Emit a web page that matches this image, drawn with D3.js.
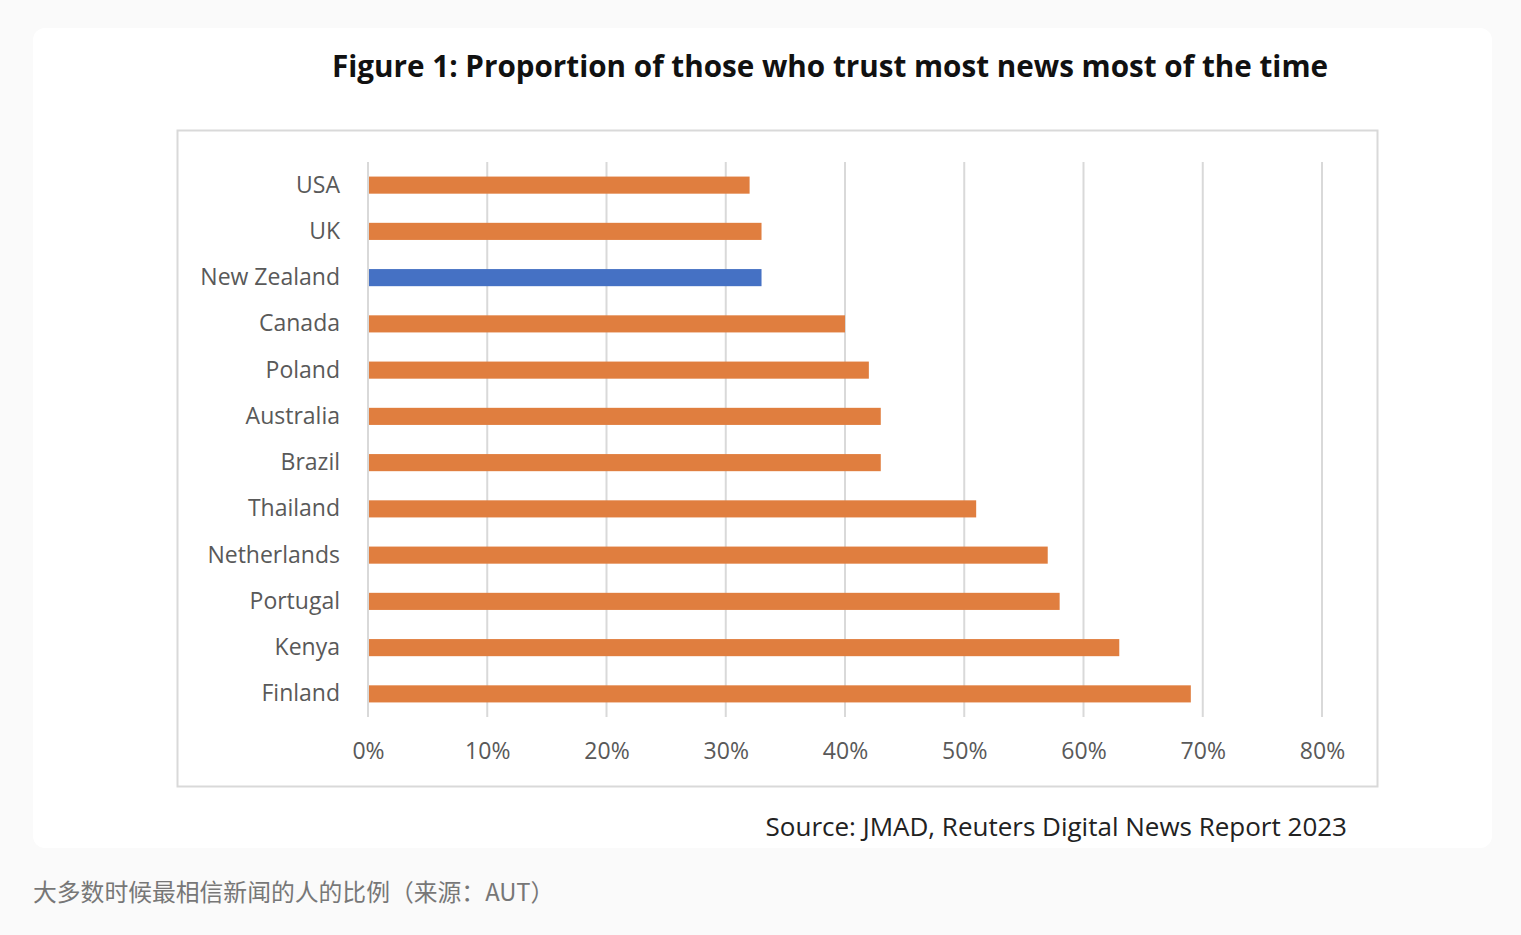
<!DOCTYPE html>
<html><head><meta charset="utf-8">
<script src="https://cdn.jsdelivr.net/npm/d3@7"></script>
<style>
html,body{margin:0;padding:0;background:#fafafa;}
svg{display:block;}
</style></head>
<body>
<svg id="chart" width="1521" height="935"></svg>
<script>
const countries = ["USA","UK","New Zealand","Canada","Poland","Australia","Brazil","Thailand","Netherlands","Portugal","Kenya","Finland"];
const values = [32,33,33,40,42,43,43,51,57,58,63,69];
const highlight = ["New Zealand"];
const ticks = [0,10,20,30,40,50,60,70,80];
const title = "Figure 1: Proportion of those who trust most news most of the time";
const source = "Source: JMAD, Reuters Digital News Report 2023";
const caption = "大多数时候最相信新闻的人的比例（来源：AUT）";

const svg = d3.select("#chart");
// card
svg.append("rect").attr("x",33).attr("y",28).attr("width",1459).attr("height",820).attr("rx",12).attr("fill","#ffffff");
// chart frame
svg.append("rect").attr("x",177.5).attr("y",130.5).attr("width",1200).attr("height",656).attr("fill","#fff").attr("stroke","#d9d9d9").attr("stroke-width",2);

svg.append("text").attr("x",830).attr("y",77).attr("text-anchor","middle")
  .attr("font-family","'Open Sans', sans-serif").attr("font-weight",700).attr("font-size",29.6).attr("fill","#111")
  .attr("textLength",996).attr("lengthAdjust","spacingAndGlyphs")
  .text(title);

const x = d3.scaleLinear().domain([0,80]).range([368,1322]);
const y = d3.scaleBand().domain(countries).range([162,717]).paddingInner(0.63).paddingOuter(0.315);

const g = svg.append("g");
// gridlines
g.selectAll("line.grid").data(ticks).join("line").attr("class","grid")
  .attr("x1",d=>x(d)).attr("x2",d=>x(d)).attr("y1",162).attr("y2",717)
  .attr("stroke","#d9d9d9").attr("stroke-width",2);

// bars
g.selectAll("rect.bar").data(countries).join("rect").attr("class","bar")
  .attr("x",x(0)+1).attr("y",d=>y(d)).attr("height",y.bandwidth())
  .attr("width",(d,i)=>x(values[i])-x(0)-1)
  .attr("fill",d=>highlight.includes(d)?"#4571C4":"#E07E3F");

// y labels
const yAxis = d3.axisLeft(y).tickSize(0).tickPadding(28);
const ya = svg.append("g").attr("transform","translate(368,0)").call(yAxis);
ya.select(".domain").remove();
ya.selectAll("text").attr("font-family","'Open Sans', sans-serif").attr("font-size",23).attr("fill","#595959");

// x labels
const xAxis = d3.axisBottom(x).tickValues(ticks).tickFormat(d=>d+"%").tickSize(0).tickPadding(0);
const xa = svg.append("g").attr("transform","translate(0,743)").call(xAxis);
xa.select(".domain").remove();
xa.selectAll("text").attr("font-family","'Open Sans', sans-serif").attr("font-size",23).attr("fill","#595959").attr("dy","0.71em");

svg.append("text").attr("x",1347).attr("y",836).attr("text-anchor","end")
  .attr("font-family","'Open Sans', sans-serif").attr("font-size",26).attr("fill","#222").text(source);

svg.append("text").attr("x",33).attr("y",901).attr("font-family","'Noto Sans CJK SC', sans-serif")
  .attr("font-size",23.8).attr("fill","#777").text(caption);
</script>
</body></html>
